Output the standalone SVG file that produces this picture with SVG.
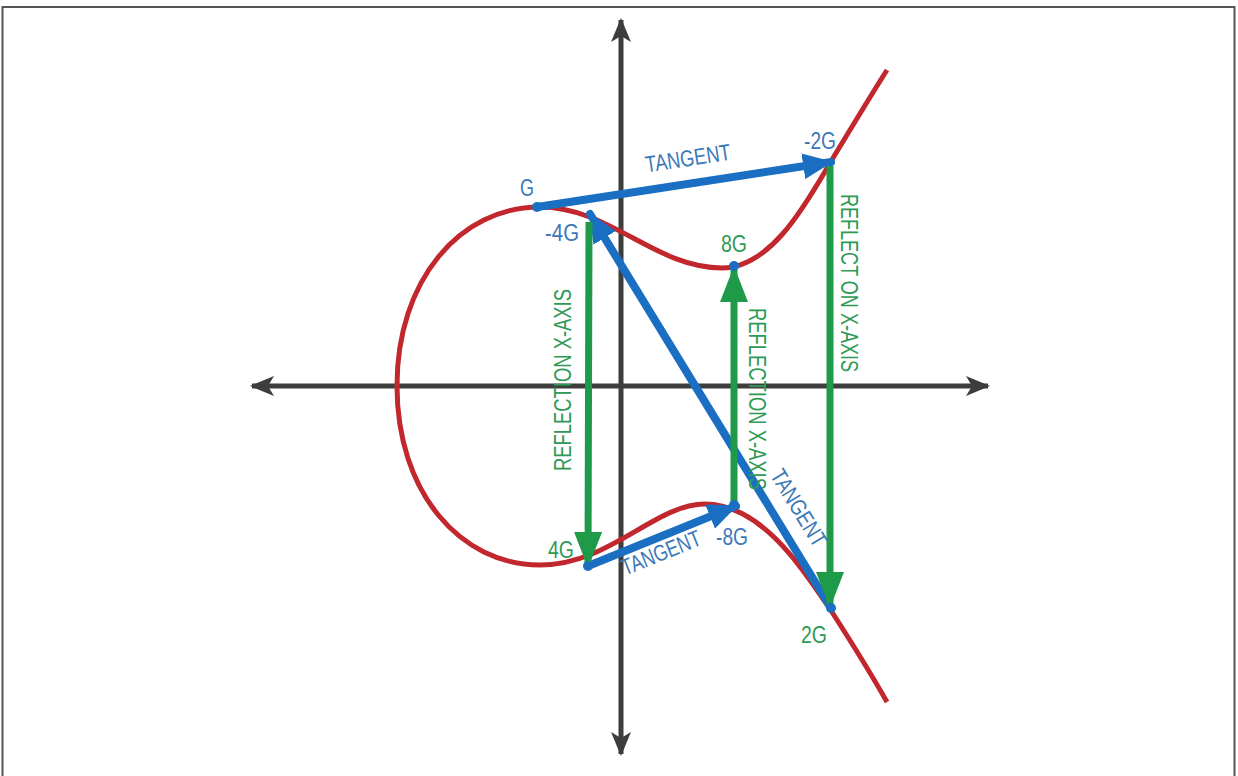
<svg xmlns="http://www.w3.org/2000/svg" width="1238" height="776" viewBox="0 0 1238 776">
<style>
.axis{stroke:#3d3d3d;stroke-width:5;fill:none}
.curve{stroke:#c1272d;stroke-width:5;fill:none}
.blue{stroke:#1a6fc2;stroke-width:8;fill:none;stroke-linecap:round}
.green{stroke:#1e9a48;stroke-width:7;fill:none}
.lb{font-family:"Liberation Sans",Arial,sans-serif;font-size:23px;fill:#3b78b8}
.lg{font-family:"Liberation Sans",Arial,sans-serif;font-size:23px;fill:#2e9a55}
</style>
<defs>
<marker id="ab" markerUnits="userSpaceOnUse" markerWidth="30" markerHeight="26" refX="28" refY="13" orient="auto"><path d="M0,0 L30,13 L0,26 Z" fill="#1a6fc2"/></marker>
<marker id="ag" markerUnits="userSpaceOnUse" markerWidth="36" markerHeight="28" refX="34" refY="14" orient="auto"><path d="M0,0 L36,14 L0,28 Z" fill="#1e9a48"/></marker>
<marker id="ax" markerUnits="userSpaceOnUse" markerWidth="24" markerHeight="20" refX="22" refY="10" orient="auto"><path d="M0,0 L24,10 L0,20 L6,10 Z" fill="#3d3d3d"/></marker>
</defs>
<rect x="2.5" y="7" width="1232" height="775" fill="#fff" stroke="#555" stroke-width="2"/>
<g id="axes">
<line class="axis" x1="621" y1="386" x2="621" y2="20" marker-end="url(#ax)"/>
<line class="axis" x1="621" y1="386" x2="621" y2="754" marker-end="url(#ax)"/>
<line class="axis" x1="621" y1="386" x2="252" y2="386" marker-end="url(#ax)"/>
<line class="axis" x1="621" y1="386" x2="988" y2="386" marker-end="url(#ax)"/>
</g>
<g id="curve">
<path class="curve" d="M887,70 C868,100 850,130 830,163 C808,200 772,268 722,268 C655,268 610,207 540,207 C460,207 397,280 397,386 C397,492 460,565 540,565 C610,565 655,504 705,504 C760,504 800,565 830,609 C850,640 870,672 887,702"/>
</g>
<g id="connectors">
<line class="blue" x1="537" y1="207" x2="831" y2="162" marker-end="url(#ab)"/>
<line class="blue" x1="831" y1="608" x2="590" y2="214" marker-end="url(#ab)"/>
<line class="blue" x1="588" y1="566" x2="736" y2="506" marker-end="url(#ab)"/>
<line class="green" x1="589" y1="222" x2="588" y2="566" marker-end="url(#ag)"/>
<line class="green" x1="734" y1="505" x2="734" y2="268" marker-end="url(#ag)"/>
<line class="green" x1="830" y1="166" x2="830" y2="606" marker-end="url(#ag)"/>
<circle cx="537" cy="207" r="5" fill="#1a6fc2"/>
<circle cx="734" cy="266" r="5" fill="#1a6fc2"/>
<circle cx="734" cy="505" r="5" fill="#1a6fc2"/>
<circle cx="588" cy="566" r="5" fill="#1a6fc2"/>
<circle cx="831" cy="608" r="5" fill="#1a6fc2"/>
</g>
<g id="labels">
<text class="lb" x="527" y="196" text-anchor="middle" textLength="14" lengthAdjust="spacingAndGlyphs">G</text>
<text class="lb" x="820" y="149" text-anchor="middle" textLength="32" lengthAdjust="spacingAndGlyphs">-2G</text>
<text class="lb" x="562" y="241" text-anchor="middle" textLength="34" lengthAdjust="spacingAndGlyphs">-4G</text>
<text class="lg" x="734" y="252" text-anchor="middle" textLength="26" lengthAdjust="spacingAndGlyphs">8G</text>
<text class="lg" x="561" y="558" text-anchor="middle" textLength="26" lengthAdjust="spacingAndGlyphs">4G</text>
<text class="lb" x="732" y="545" text-anchor="middle" textLength="32" lengthAdjust="spacingAndGlyphs">-8G</text>
<text class="lg" x="814" y="643" text-anchor="middle" textLength="26" lengthAdjust="spacingAndGlyphs">2G</text>
<text class="lb" transform="translate(689,166) rotate(-8.6)" text-anchor="middle" textLength="86" lengthAdjust="spacingAndGlyphs">TANGENT</text>
<text class="lb" transform="translate(664,560) rotate(-22)" text-anchor="middle" textLength="84" lengthAdjust="spacingAndGlyphs">TANGENT</text>
<text class="lb" transform="translate(792,512) rotate(58.5)" text-anchor="middle" textLength="86" lengthAdjust="spacingAndGlyphs">TANGENT</text>
<text class="lg" transform="translate(571,380) rotate(-90)" text-anchor="middle" textLength="182" lengthAdjust="spacingAndGlyphs">REFLECTION X-AXIS</text>
<text class="lg" transform="translate(749,399) rotate(90)" text-anchor="middle" textLength="182" lengthAdjust="spacingAndGlyphs">REFLECTION X-AXIS</text>
<text class="lg" transform="translate(841,283) rotate(90)" text-anchor="middle" textLength="178" lengthAdjust="spacingAndGlyphs">REFLECT ON X-AXIS</text>
</g>
</svg>
